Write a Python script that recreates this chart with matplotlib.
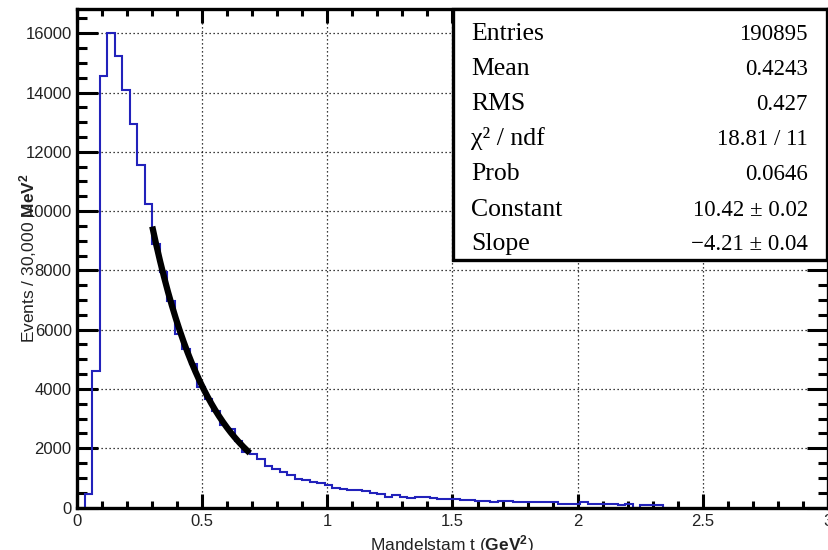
import numpy as np
import matplotlib
matplotlib.use("Agg")
import matplotlib.pyplot as plt
from matplotlib.patches import Rectangle

# ---------------- data ----------------
bin_width = 0.03  # GeV^2 (30,000 MeV^2)
counts = [0, 450, 4600, 14550, 16000, 15250, 14100, 12950, 11550, 10250,
          8900, 7940, 6980, 5850, 5350, 4840, 4060, 3650, 3260, 2770,
          2640, 2240, 1860, 1810, 1630, 1400, 1290, 1210, 1100, 965,
          940, 873, 818, 760, 650, 616, 592, 592, 570, 500,
          446, 366, 423, 366, 310, 366, 344, 310, 288, 288,
          270, 254, 254, 230, 230, 197, 230, 220, 197, 197,
          190, 197, 175, 197, 118, 118, 118, 175, 118, 118,
          130, 130, 85, 118, 0, 100, 100, 100]
fit_const = 10.42
fit_slope = -4.21
fit_range = [0.30, 0.69]

x_ticks = [0, 0.5, 1, 1.5, 2, 2.5, 3]
x_ticklabels = ["0", "0.5", "1", "1.5", "2", "2.5", "3"]
y_ticks = [0, 2000, 4000, 6000, 8000, 10000, 12000, 14000, 16000]
y_ticklabels = ["0", "2000", "4000", "6000", "8000", "10000", "12000", "14000", "16000"]

stat_names = ["Entries", "Mean", "RMS", "\u03c7\u00b2 / ndf", "Prob", "Constant", "Slope"]
stat_values = ["190895", "0.4243", "0.427", "18.81 / 11", "0.0646",
               "10.42 \u00b1 0.02", "\u22124.21 \u00b1 0.04"]

# ---------------- style ----------------
plt.rcParams['font.family'] = ['Liberation Sans', 'DejaVu Sans']
plt.rcParams['mathtext.fontset'] = 'custom'
plt.rcParams['mathtext.rm'] = 'Liberation Sans'
plt.rcParams['mathtext.bf'] = 'Liberation Sans:bold'

W, H = 829, 550
fig = plt.figure(figsize=(W / 100, H / 100), dpi=100)
x0, x1, ytop, ybot = 77.2, 827.8, 9.0, 507.5
ax = fig.add_axes([x0 / W, 1 - ybot / H, (x1 - x0) / W, (ybot - ytop) / H])

edges = np.arange(len(counts) + 1) * bin_width
ax.stairs(counts, edges, color='#2222bb', lw=1.5, baseline=0, zorder=3)

xf = np.linspace(fit_range[0], fit_range[1], 200)
ax.plot(xf, np.exp(fit_const + fit_slope * xf), color='black', lw=4.5,
        solid_capstyle='butt', zorder=4)

ax.set_xlim(0, 3)
ax.set_ylim(0, 16820)

ax.set_xticks(x_ticks)
ax.set_xticklabels(x_ticklabels)
ax.set_yticks(y_ticks)
ax.set_yticklabels(y_ticklabels)
ax.set_xticks(np.arange(0, 3.0001, 0.1), minor=True)
ax.set_yticks(np.arange(0, 16801, 500), minor=True)

ax.grid(True, which='major', color='black', linestyle=(0, (1, 2.2)), lw=0.9, zorder=1)

ax.tick_params(which='both', direction='in', top=True, right=True, width=2.2, colors='black')
ax.tick_params(axis='both', which='major', labelsize=12)
ax.xaxis.set_tick_params(which='major', length=10, pad=5)
ax.xaxis.set_tick_params(which='minor', length=5)
ax.yaxis.set_tick_params(which='major', length=15, pad=4)
ax.yaxis.set_tick_params(which='minor', length=7.5)
for lab in ax.get_xticklabels() + ax.get_yticklabels():
    lab.set_color('#222222')

for s in ax.spines.values():
    s.set_linewidth(2.4)
    s.set_zorder(5)

# axis labels
fig.text(28 / W, 1 - 258 / H, r"Events / 30,000 $\mathbf{MeV^{2}}$", rotation=90,
         ha='center', va='center', fontsize=12.5, color='#222222')
fig.text(452 / W, 1 - 550 / H, r"Mandelstam t ($\mathbf{GeV^{2}}$)",
         ha='center', va='baseline', fontsize=12.5, color='#222222')

# stats box
bx0, bx1, by0, by1 = 453, 827, 9, 260
fig.add_artist(Rectangle((bx0 / W, 1 - by1 / H), (bx1 - bx0) / W, (by1 - by0) / H,
                         transform=fig.transFigure, facecolor='white',
                         edgecolor='black', lw=2.4, zorder=10))
baselines = [40, 75, 110, 145, 180, 216, 250]
for name, val, b in zip(stat_names, stat_values, baselines):
    fig.text(471 / W, 1 - b / H, name, ha='left', va='baseline',
             fontsize=18.5, family='Liberation Serif', zorder=11)
    fig.text(808 / W, 1 - b / H, val, ha='right', va='baseline',
             fontsize=16.5, family='Liberation Serif', zorder=11)

fig.savefig("out.png", dpi=100)
